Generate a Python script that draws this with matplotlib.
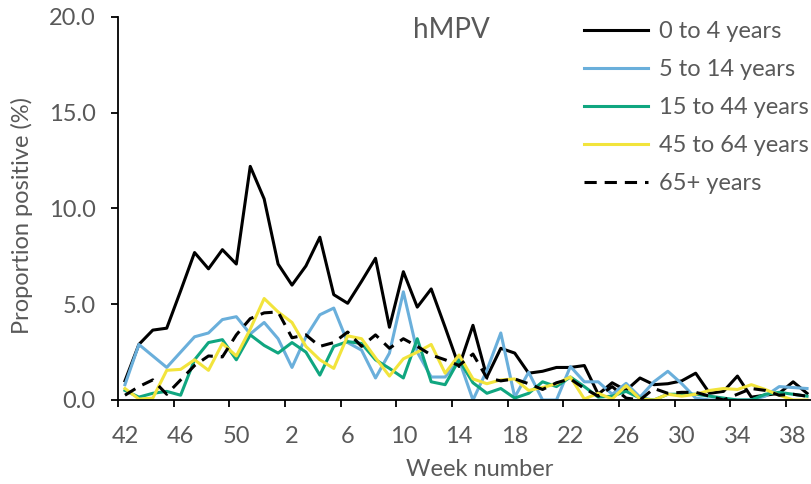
import numpy as np
import matplotlib
matplotlib.use("Agg")
import matplotlib.pyplot as plt

plt.rcParams['font.family'] = ['Lato', 'DejaVu Sans']

# surveillance weeks 42..52 then 1..39
weeks = list(range(42, 53)) + list(range(1, 40))

age_0_4 = [1.0, 2.9, 3.65, 3.75, 5.7, 7.7, 6.85, 7.85, 7.1, 12.2,
           10.5, 7.1, 6.0, 7.0, 8.5, 5.5, 5.05, 6.2, 7.4, 3.8,
           6.7, 4.85, 5.8, 3.8, 1.75, 3.9, 1.2, 2.7, 2.45, 1.4,
           1.5, 1.7, 1.7, 1.8, 0.3, 0.9, 0.5, 1.15, 0.8, 0.85,
           1.0, 1.4, 0.35, 0.45, 1.25, 0.15, 0.25, 0.35, 0.95, 0.35]
age_5_14 = [0.8, 2.9, 2.3, 1.7, 2.5, 3.3, 3.5, 4.2, 4.35, 3.45,
            4.05, 3.2, 1.7, 3.3, 4.45, 4.8, 3.0, 2.6, 1.15, 2.45,
            5.65, 2.5, 1.2, 1.2, 2.1, 0.0, 1.55, 3.5, 0.15, 1.45,
            0.0, 0.0, 1.75, 0.95, 0.95, 0.3, 0.87, 0.15, 0.95, 1.5,
            0.85, 0.1, 0.0, 0.0, 0.0, 0.0, 0.2, 0.7, 0.65, 0.6]
age_15_44 = [0.5, 0.15, 0.35, 0.45, 0.25, 2.1, 3.0, 3.15, 2.1, 3.4,
             2.85, 2.45, 3.0, 2.5, 1.3, 2.8, 3.05, 2.95, 2.1, 1.65,
             1.15, 3.2, 0.95, 0.8, 2.1, 0.9, 0.35, 0.6, 0.1, 0.35,
             0.95, 0.7, 1.2, 0.7, 0.15, 0.2, 0.45, 0.1, 0.0, 0.3,
             0.3, 0.3, 0.2, 0.1, 0.0, 0.0, 0.3, 0.4, 0.3, 0.2]
age_45_64 = [0.6, 0.05, 0.1, 1.55, 1.6, 2.1, 1.55, 2.95, 2.3, 3.7,
             5.3, 4.6, 4.05, 2.8, 2.1, 1.65, 3.35, 3.2, 2.2, 1.25,
             2.15, 2.5, 2.9, 1.4, 2.35, 1.1, 0.85, 1.05, 1.1, 0.5,
             0.65, 0.85, 1.2, 0.05, 0.35, 0.05, 0.75, 0.05, 0.0, 0.3,
             0.2, 0.3, 0.5, 0.6, 0.55, 0.8, 0.55, 0.25, 0.0, 0.0]
age_65_plus = [0.25, 0.7, 1.05, 0.3, 1.05, 1.8, 2.3, 2.25, 3.4, 4.25,
               4.55, 4.6, 3.25, 3.4, 2.8, 3.0, 3.55, 2.8, 3.4, 2.7,
               3.2, 2.8, 2.35, 2.1, 1.8, 2.4, 1.15, 1.0, 1.1, 0.85,
               0.55, 0.9, 1.1, 0.6, 0.2, 0.7, 0.1, 0.0, 0.6, 0.35,
               0.4, 0.4, 0.2, 0.0, 0.3, 0.6, 0.5, 0.25, 0.3, 0.2]

labels = ["0 to 4 years", "5 to 14 years", "15 to 44 years",
          "45 to 64 years", "65+ years"]
grey = "#595959"

fig = plt.figure(figsize=(8.12, 4.84), dpi=100)
ax = fig.add_axes([118 / 812, 84 / 484, 694 / 812, 383 / 484])

x = np.arange(len(weeks))
lw = 2.2
ax.plot(x, age_0_4, color="black", lw=lw, label=labels[0])
ax.plot(x, age_5_14, color="#6AAFDB", lw=lw, label=labels[1])
ax.plot(x, age_15_44, color="#10A680", lw=lw, label=labels[2])
ax.plot(x, age_45_64, color="#F2E43C", lw=lw, label=labels[3])
ax.plot(x, age_65_plus, color="black", lw=lw, ls=(0, (4, 2.6)), label=labels[4])

ax.set_xlim(-0.5, -0.5 + 694 / 13.92)
ax.set_ylim(0, 20)

ax.set_yticks([0, 5, 10, 15, 20])
ax.set_yticklabels([f"{v:.1f}" for v in [0, 5, 10, 15, 20]])
# tick marks between categories, labels at category centres
ax.set_xticks(np.arange(-0.5, len(weeks), 4))
ax.set_xticklabels([])
ax.set_xticks(np.arange(0, len(weeks), 4), minor=True)
ax.set_xticklabels([str(w) for w in weeks[::4]], minor=True)

ax.tick_params(axis="y", length=5, width=1.3, pad=11, labelsize=17, labelcolor=grey)
ax.tick_params(axis="x", which="major", length=5, width=1.3)
ax.tick_params(axis="x", which="minor", length=0, pad=19, labelsize=17, labelcolor=grey)

for s in ["top", "right"]:
    ax.spines[s].set_visible(False)
for s in ["left", "bottom"]:
    ax.spines[s].set_linewidth(1.3)

ax.set_xlabel("Week number", fontsize=17, color=grey)
ax.xaxis.set_label_coords((480 - 118) / 694, -0.155)
ax.set_ylabel("Proportion positive (%)", fontsize=17, color=grey)
ax.yaxis.set_label_coords(-0.123, 0.483)

ax.text(0.48, 0.966, "hMPV", transform=ax.transAxes, ha="center", va="center",
        fontsize=20, color=grey)

fig.legend(loc="upper left", bbox_to_anchor=(575 / 812, 1 - 12 / 484),
           frameon=False, fontsize=17, handlelength=2.7, handletextpad=0.45,
           labelspacing=0.72, labelcolor=grey, borderaxespad=0)

fig.savefig("out.png", dpi=100)
